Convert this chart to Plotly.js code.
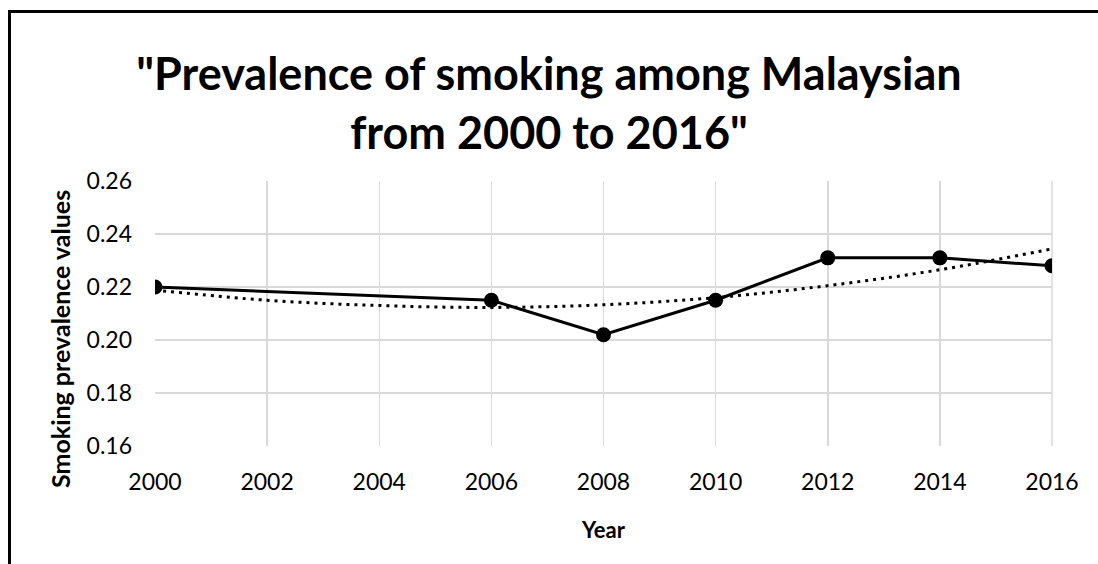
<!DOCTYPE html>
<html>
<head>
<meta charset="utf-8">
<script src="https://cdn.plot.ly/plotly-3.0.1.min.js"></script>
<style>
  html, body { margin: 0; padding: 0; background: #fff; }
  #chart { width: 1098px; height: 564px; }
  #frame { position: absolute; left: 8px; top: 10px; width: 1200px; height: 700px;
           border-left: 3px solid #000; border-top: 3px solid #000; pointer-events: none; }
</style>
</head>
<body>
<div id="chart"></div>
<div id="frame"></div>
<script>
// Data
const years = [2000, 2006, 2008, 2010, 2012, 2014, 2016];
const prevalence = [0.220, 0.215, 0.202, 0.215, 0.231, 0.231, 0.228];

// Dotted trendline (polynomial)
const trendYears = [2000, 2002, 2004, 2006, 2008, 2010, 2012, 2014, 2016];
const trendValues = [0.2188, 0.2150, 0.2130, 0.2123, 0.2133, 0.2160, 0.2205, 0.2265, 0.2344];

const xTicks = [2000, 2002, 2004, 2006, 2008, 2010, 2012, 2014, 2016];
const yTicks = [0.16, 0.18, 0.20, 0.22, 0.24, 0.26];

const titleText = '"Prevalence of smoking among Malaysian<br>from 2000 to 2016"';
const xTitle = 'Year';
const yTitle = 'Smoking prevalence values';

const FONT = 'Lato, "Open Sans", sans-serif';

const traces = [
  {
    x: years, y: prevalence, type: 'scatter', mode: 'lines+markers',
    line: { color: '#000', width: 3 },
    marker: { color: '#000', size: 15 },
    hoverinfo: 'skip', showlegend: false
  },
  {
    x: trendYears, y: trendValues, type: 'scatter', mode: 'lines',
    line: { color: '#000', width: 3, dash: '3px,5px', shape: 'spline' },
    hoverinfo: 'skip', showlegend: false
  }
];

const layout = {
  width: 1098, height: 564,
  paper_bgcolor: '#fff', plot_bgcolor: '#fff',
  margin: { l: 155, r: 46, t: 181, b: 118 },
  font: { family: FONT, color: '#000' },
  title: {
    text: titleText,
    font: { family: FONT, size: 45, color: '#000', weight: 'bold' },
    x: 0.5, xanchor: 'center', xref: 'container',
    y: 1 - 90 / 564, yanchor: 'middle', yref: 'container'
  },
  xaxis: {
    range: [2000, 2016], tickvals: xTicks, ticktext: xTicks.map(String),
    showgrid: true, gridcolor: '#d9d9d9', gridwidth: 1.5,
    zeroline: false, showline: false, ticks: '',
    tickfont: { family: FONT, size: 23, color: '#000' },
    ticklabelstandoff: 20,
    title: { text: xTitle, font: { family: FONT, size: 22, color: '#000', weight: 'bold' }, standoff: 28 }
  },
  yaxis: {
    range: [0.16, 0.26], tickvals: yTicks, ticktext: yTicks.map(v => v.toFixed(2)),
    showgrid: true, gridcolor: '#d9d9d9', gridwidth: 1.5,
    zeroline: false, showline: false, ticks: '',
    tickfont: { family: FONT, size: 23, color: '#000' },
    ticklabelstandoff: 22
  },
  annotations: [
    { text: yTitle, xref: 'paper', yref: 'paper', x: (60 - 155) / 897, y: (446 - 339) / 265,
      xanchor: 'center', yanchor: 'middle', textangle: -90, showarrow: false,
      font: { family: FONT, size: 25, color: '#000', weight: 'bold' } }
  ],
  shapes: [
    { type: 'line', xref: 'paper', yref: 'paper', x0: 1, x1: 1, y0: 0, y1: 1,
      line: { color: '#d9d9d9', width: 1.5 }, layer: 'below' }
  ]
};

Plotly.newPlot('chart', traces, layout, { displayModeBar: false, staticPlot: true });
</script>
</body>
</html>
